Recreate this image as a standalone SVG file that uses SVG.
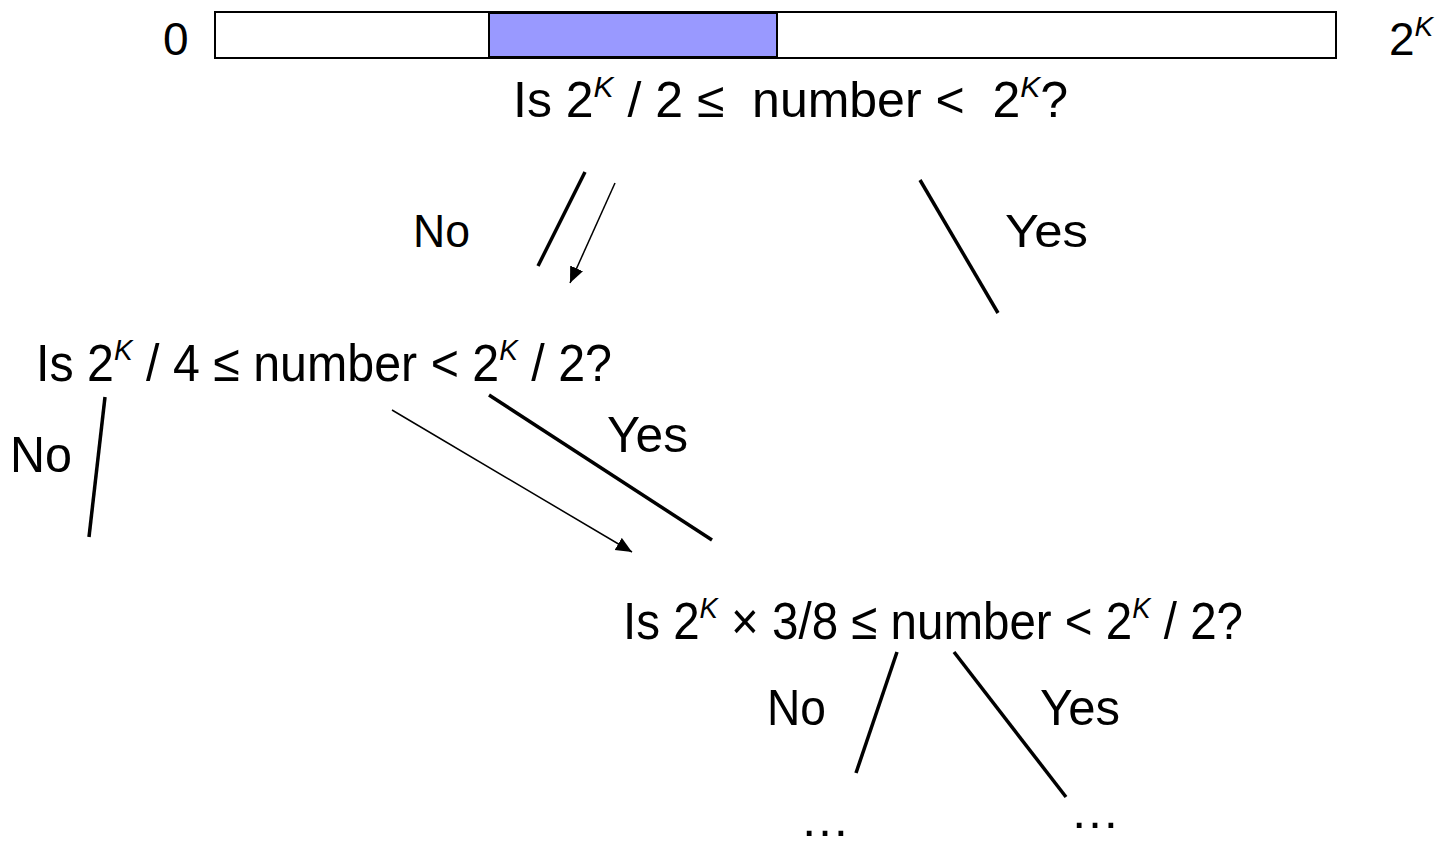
<svg xmlns="http://www.w3.org/2000/svg" width="1441" height="847" viewBox="0 0 1441 847">
<style>
text{font-family:"Liberation Sans",Arial,sans-serif;fill:#000}
.q1{font-size:50px}
.q{font-size:52px}
.lbl{font-size:46px}
.lbl2{font-size:50px}
.sup{font-style:italic}
.thick{stroke:#000;stroke-width:3.5;fill:none}
.thin{stroke:#000;stroke-width:1.5;fill:none}
</style>
<defs>
<marker id="ah" markerUnits="userSpaceOnUse" markerWidth="20" markerHeight="16" refX="16" refY="7" orient="auto">
<path d="M0,0 L16,7 L0,14 Z" fill="#000"/>
</marker>
</defs>
<g id="range">
<rect x="215" y="12" width="1121" height="46" fill="#fff" stroke="#000" stroke-width="2"/>
<rect x="489" y="13" width="288" height="44" fill="#9999FF" stroke="#000" stroke-width="2"/>
<text x="163" y="55" class="lbl">0</text>
<text x="1389" y="55" class="lbl">2<tspan class="sup" font-size="28" dy="-19">K</tspan></text>
</g>
<g id="q1">
<text x="513" y="117" class="q1" xml:space="preserve" textLength="555" lengthAdjust="spacingAndGlyphs">Is 2<tspan class="sup" font-size="30" dy="-20">K</tspan><tspan dy="20"> / 2 ≤  number &lt;  2</tspan><tspan class="sup" font-size="30" dy="-20">K</tspan><tspan dy="20">?</tspan></text>
</g>
<g id="q2">
<text x="36" y="381" class="q" textLength="576" lengthAdjust="spacingAndGlyphs">Is 2<tspan class="sup" font-size="30" dy="-21">K</tspan><tspan dy="21"> / 4 ≤ number &lt; 2</tspan><tspan class="sup" font-size="30" dy="-21">K</tspan><tspan dy="21"> / 2?</tspan></text>
</g>
<g id="q3">
<text x="623" y="639" class="q" textLength="620" lengthAdjust="spacingAndGlyphs">Is 2<tspan class="sup" font-size="30" dy="-21">K</tspan><tspan dy="21"> × 3/8 ≤ number &lt; 2</tspan><tspan class="sup" font-size="30" dy="-21">K</tspan><tspan dy="21"> / 2?</tspan></text>
</g>
<g id="end1">
<text x="800" y="836" class="lbl2">…</text>
</g>
<g id="end2">
<text x="1070" y="828" class="lbl2">…</text>
</g>
<g id="labels">
<text x="413" y="247" class="lbl" textLength="57" lengthAdjust="spacingAndGlyphs">No</text>
<text x="1005" y="247" class="lbl" textLength="83" lengthAdjust="spacingAndGlyphs">Yes</text>
<text x="10" y="472" class="lbl2" textLength="62" lengthAdjust="spacingAndGlyphs">No</text>
<text x="607" y="452" class="lbl2" textLength="81" lengthAdjust="spacingAndGlyphs">Yes</text>
<text x="767" y="725" class="lbl2" textLength="59" lengthAdjust="spacingAndGlyphs">No</text>
<text x="1040" y="725" class="lbl2" textLength="80" lengthAdjust="spacingAndGlyphs">Yes</text>
</g>
<g id="connectors">
<line class="thick" x1="585" y1="172" x2="538" y2="266"/>
<line class="thin" x1="615" y1="183" x2="570" y2="283" marker-end="url(#ah)"/>
<line class="thick" x1="920" y1="180" x2="998" y2="313"/>
<line class="thick" x1="105" y1="397" x2="89" y2="537"/>
<line class="thick" x1="489" y1="395" x2="712" y2="540"/>
<line class="thin" x1="392" y1="410" x2="632" y2="552" marker-end="url(#ah)"/>
<line class="thick" x1="897" y1="652" x2="856" y2="773"/>
<line class="thick" x1="954" y1="652" x2="1066" y2="797"/>
</g>
</svg>
